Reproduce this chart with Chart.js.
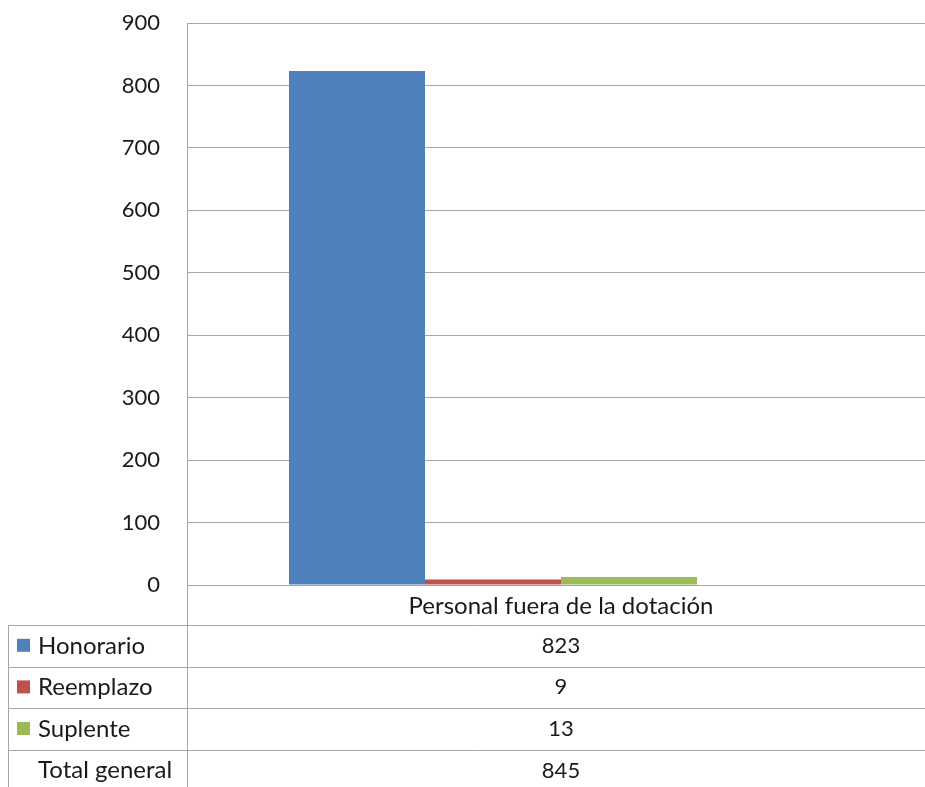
<!DOCTYPE html>
<html>
<head>
<meta charset="utf-8">
<script src="https://cdn.jsdelivr.net/npm/chart.js@4.4.1/dist/chart.umd.min.js"></script>
<style>
  html, body { margin: 0; padding: 0; background: #fff; overflow: hidden; }
  canvas { display: block; }
</style>
</head>
<body>
<canvas id="barChart" width="945" height="787"></canvas>
<script>
// data
const categories = ["Personal fuera de la dotación"];
const seriesNames = ["Honorario", "Reemplazo", "Suplente", "Total general"];
const honorario = [823];
const reemplazo = [9];
const suplente = [13];
const totalGeneral = [845];
const yTicks = [0, 100, 200, 300, 400, 500, 600, 700, 800, 900];

const colors = ["#4F81BD", "#C0504D", "#9BBB59", "rgba(0,0,0,0)"];
const FONT = "Lato, 'Open Sans', sans-serif";
const lineColor = "#a6a6a6";

const dataTable = {
  id: "dataTable",
  afterDraw(chart) {
    const ctx = chart.ctx;
    const area = chart.chartArea;
    const x = chart.scales.x;
    const rowTop = 625;
    const rowH = 41.6;
    const tableLeft = 8;
    const right = chart.width;
    const valCx = x.getPixelForTick(0);

    ctx.save();
    ctx.strokeStyle = lineColor;
    ctx.lineWidth = 1;
    ctx.beginPath();
    // left plot border down through the table
    ctx.moveTo(area.left + 0.5, area.top);
    ctx.lineTo(area.left + 0.5, chart.height);
    // table outer left
    ctx.moveTo(tableLeft + 0.5, rowTop);
    ctx.lineTo(tableLeft + 0.5, chart.height);
    for (let i = 0; i < 4; i++) {
      const y = Math.round(rowTop + i * rowH) + 0.5;
      ctx.moveTo(tableLeft, y);
      ctx.lineTo(right, y);
    }
    ctx.stroke();

    ctx.fillStyle = "#1a1a1a";
    ctx.font = "24px " + FONT;
    ctx.textBaseline = "middle";
    ctx.textAlign = "center";
    ctx.fillText(categories[0], valCx, (area.bottom + rowTop) / 2 + 1);

    const values = [honorario, reemplazo, suplente, totalGeneral];
    seriesNames.forEach((name, i) => {
      const cy = rowTop + i * rowH + rowH / 2;
      if (i < 3) {
        ctx.fillStyle = colors[i];
        ctx.fillRect(17, cy - 7, 13, 13);
      }
      ctx.fillStyle = "#1a1a1a";
      ctx.textAlign = "left";
      ctx.font = "24px " + FONT;
      ctx.fillText(name, 38, cy);
      ctx.textAlign = "center";
      ctx.font = "22px " + FONT;
      ctx.fillText(String(values[i][0]), valCx, cy);
    });
    ctx.restore();
  }
};

new Chart(document.getElementById("barChart"), {
  type: "bar",
  data: {
    labels: categories,
    datasets: [
      { label: seriesNames[0], data: honorario, backgroundColor: colors[0] },
      { label: seriesNames[1], data: reemplazo, backgroundColor: colors[1] },
      { label: seriesNames[2], data: suplente, backgroundColor: colors[2] },
      { label: seriesNames[3], data: totalGeneral, backgroundColor: colors[3] },
    ],
  },
  options: {
    responsive: false,
    animation: false,
    layout: { padding: { top: 23, left: 0, right: 10, bottom: 202 } },
    datasets: { bar: { categoryPercentage: 4 / 5.5, barPercentage: 1 } },
    plugins: { legend: { display: false }, tooltip: { enabled: false } },
    scales: {
      x: { display: false },
      y: {
        min: 0,
        max: 900,
        afterBuildTicks(scale) {
          scale.ticks = yTicks.map(v => ({ value: v }));
        },
        afterFit(scale) {
          scale.width = 187;
          scale.paddingTop = 0;
          scale.paddingBottom = 0;
        },
        border: { display: false },
        grid: { color: lineColor, drawTicks: false },
        ticks: {
          padding: 27,
          color: "#1a1a1a",
          font: { family: FONT, size: 22 },
        },
      },
    },
  },
  plugins: [dataTable],
});
</script>
</body>
</html>
